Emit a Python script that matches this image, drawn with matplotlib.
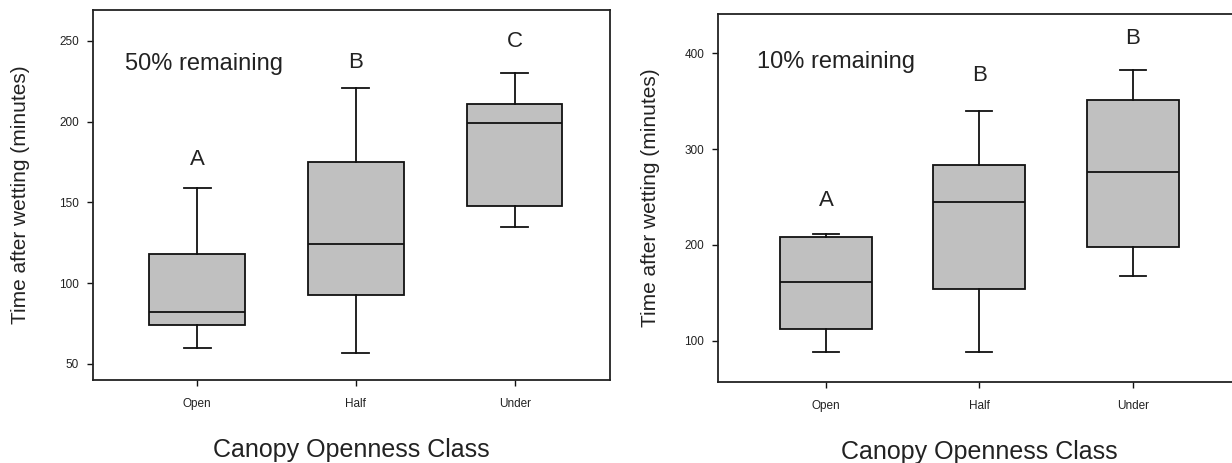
import matplotlib
matplotlib.use("Agg")
from matplotlib import pyplot as plt

plt.rcParams['font.family'] = ['Liberation Sans', 'DejaVu Sans']

# data
classes = ["Open", "Half", "Under"]

# 50% remaining
low50 = [60, 57, 135]
q1_50 = [74, 93, 148]
med50 = [82, 124, 199]
q3_50 = [118, 175, 211]
high50 = [159, 221, 230]
letters50 = ["A", "B", "C"]
letter_y50 = [170, 230, 243]

# 10% remaining
low10 = [88, 88, 168]
q1_10 = [112, 154, 198]
med10 = [161, 245, 276]
q3_10 = [208, 283, 351]
high10 = [211, 340, 382]
letters10 = ["A", "B", "B"]
letter_y10 = [235, 366, 404]

yticks50 = [50, 100, 150, 200, 250]
yticks10 = [100, 200, 300, 400]

txt = '#222222'


def stats(lo, q1, med, q3, hi):
    out = []
    for i in range(len(lo)):
        out.append(dict(whislo=lo[i], q1=q1[i], med=med[i], q3=q3[i],
                        whishi=hi[i], fliers=[], label=classes[i]))
    return out


def panel(ax, st, letters, ly, yticks, ylim, xlim, note, note_xy, right_spine, ylab_x):
    ax.bxp(st, positions=[1, 2, 3], widths=0.6, patch_artist=True,
           showfliers=False, capwidths=0.17,
           boxprops=dict(facecolor='#c0c0c0', edgecolor='#111111', linewidth=1.3),
           medianprops=dict(color='#111111', linewidth=1.3),
           whiskerprops=dict(color='#111111', linewidth=1.3),
           capprops=dict(color='#111111', linewidth=1.3))
    ax.set_xlim(xlim)
    ax.set_ylim(ylim)
    ax.set_yticks(yticks)
    ax.set_xticks([1, 2, 3])
    ax.set_xticklabels(classes)
    ax.tick_params(labelsize=8.5, colors='#111111', labelcolor=txt, length=4, width=1)
    ax.tick_params(axis='x', pad=9)
    ax.tick_params(axis='y', pad=6)
    for s in ax.spines.values():
        s.set_linewidth(1.3)
        s.set_color('#222222')
    ax.spines['right'].set_visible(right_spine)
    for i in range(3):
        ax.text(i + 1, ly[i], letters[i], ha='center', va='bottom', fontsize=16, color=txt)
    ax.text(note_xy[0], note_xy[1], note, transform=ax.transAxes, fontsize=17, color=txt, va='center')
    ax.set_ylabel("Time after wetting (minutes)", fontsize=15, color=txt)
    ax.yaxis.set_label_coords(ylab_x, 0.5)
    ax.set_xlabel("Canopy Openness Class", fontsize=18, color=txt, labelpad=20)


fig = plt.figure(figsize=(12.32, 4.63), dpi=100)
ax1 = fig.add_axes([0.0755, 0.179, 0.4196, 0.799])
ax2 = fig.add_axes([0.5828, 0.175, 0.4237, 0.795])

panel(ax1, stats(low50, q1_50, med50, q3_50, high50), letters50, letter_y50,
      yticks50, (40, 269), (0.345, 3.6), "50% remaining", (0.062, 0.854), True, -0.122)
panel(ax2, stats(low10, q1_10, med10, q3_10, high10), letters10, letter_y10,
      yticks10, (57, 441), (0.294, 3.7), "10% remaining", (0.075, 0.87), False, -0.111)

fig.savefig("out.png", dpi=100)
